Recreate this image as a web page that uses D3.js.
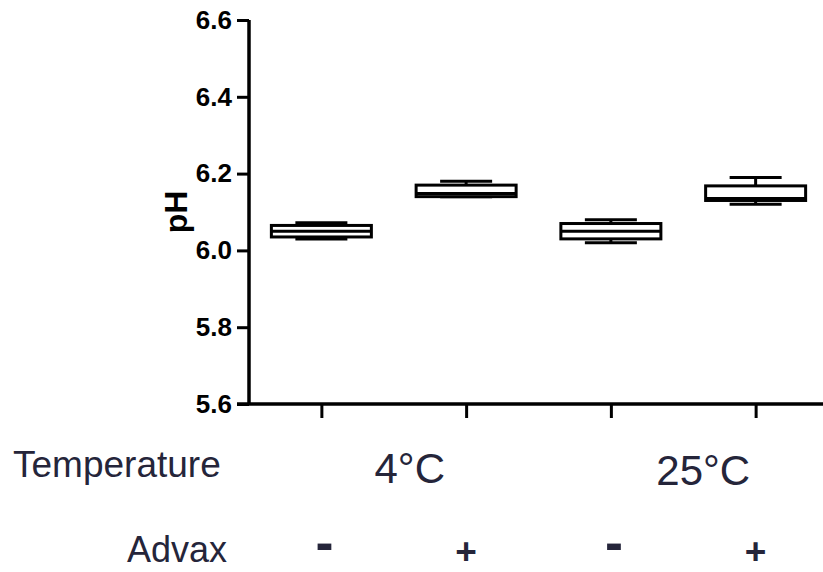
<!DOCTYPE html>
<html>
<head>
<meta charset="utf-8">
<script src="https://cdn.jsdelivr.net/npm/d3@7"></script>
<style>
  body { margin: 0; background: #fff; }
  text { font-family: "Liberation Sans", Arial, sans-serif; }
</style>
</head>
<body>
<div id="chart"></div>
<script>
// data
var groups = ["4°C -", "4°C +", "25°C -", "25°C +"];
var temperatures = ["4°C", "25°C"];
var advax = ["-", "+", "-", "+"];
var mins = [6.03, 6.14, 6.02, 6.12];
var q1s = [6.035, 6.14, 6.03, 6.13];
var medians = [6.05, 6.148, 6.05, 6.135];
var q3s = [6.065, 6.17, 6.07, 6.168];
var maxs = [6.072, 6.18, 6.08, 6.19];
var yTicks = [5.6, 5.8, 6.0, 6.2, 6.4, 6.6];

var w = 823, h = 572;
var boxW = 100, capW = 52;
var ink = "#25253a";

var svg = d3.select("#chart").append("svg")
  .attr("width", w)
  .attr("height", h);

var x = d3.scalePoint().domain(groups).range([249, 828]).padding(0.5);
var y = d3.scaleLinear().domain([5.6, 6.6]).range([404, 20]);

var boxes = groups.map(function(g, i) {
  return { g: g, min: mins[i], q1: q1s[i], med: medians[i], q3: q3s[i], max: maxs[i] };
});

//y axis
var yAxis = svg.append("g")
  .attr("transform", "translate(249,0)")
  .call(d3.axisLeft(y).tickValues(yTicks).tickFormat(d3.format(".1f")).tickSize(12).tickSizeOuter(0).tickPadding(5));
yAxis.select(".domain").attr("stroke-width", 3.5).attr("d", "M0,20V404");
yAxis.selectAll(".tick line").attr("stroke-width", 3);
yAxis.selectAll(".tick text")
  .attr("font-size", "26px")
  .attr("font-weight", "bold")
  .attr("fill", "#000")
  .attr("font-family", "Liberation Sans, Arial, sans-serif");

//x axis
var xAxis = svg.append("g")
  .attr("transform", "translate(0,404)")
  .call(d3.axisBottom(x).tickSize(14).tickSizeOuter(0).tickFormat(""));
xAxis.select(".domain").attr("stroke-width", 3.5).attr("d", "M237,0H823");
xAxis.selectAll(".tick line").attr("stroke-width", 3);

//y title
svg.append("text")
  .attr("transform", "translate(187,212) rotate(-90)")
  .attr("text-anchor", "middle")
  .attr("font-size", "32px")
  .attr("font-weight", "bold")
  .text("pH");

//boxes
var b = svg.selectAll("g.box")
  .data(boxes)
  .enter()
  .append("g")
  .attr("class", "box");

b.append("line")
  .attr("x1", function(d) { return x(d.g); })
  .attr("x2", function(d) { return x(d.g); })
  .attr("y1", function(d) { return y(d.max); })
  .attr("y2", function(d) { return y(d.min); })
  .attr("stroke", "#000")
  .attr("stroke-width", 3);

b.selectAll("line.cap")
  .data(function(d) { return [{ g: d.g, v: d.min }, { g: d.g, v: d.max }]; })
  .enter()
  .append("line")
  .attr("class", "cap")
  .attr("x1", function(d) { return x(d.g) - capW / 2; })
  .attr("x2", function(d) { return x(d.g) + capW / 2; })
  .attr("y1", function(d) { return y(d.v); })
  .attr("y2", function(d) { return y(d.v); })
  .attr("stroke", "#000")
  .attr("stroke-width", 3);

b.append("rect")
  .attr("x", function(d) { return x(d.g) - boxW / 2; })
  .attr("y", function(d) { return y(d.q3); })
  .attr("width", boxW)
  .attr("height", function(d) { return y(d.q1) - y(d.q3); })
  .attr("fill", "#fff")
  .attr("stroke", "#000")
  .attr("stroke-width", 3);

b.append("line")
  .attr("x1", function(d) { return x(d.g) - boxW / 2; })
  .attr("x2", function(d) { return x(d.g) + boxW / 2; })
  .attr("y1", function(d) { return y(d.med); })
  .attr("y2", function(d) { return y(d.med); })
  .attr("stroke", "#000")
  .attr("stroke-width", 3);

//row labels under the axis
svg.append("text")
  .attr("x", 13).attr("y", 477)
  .attr("font-size", "37px")
  .attr("fill", ink)
  .text("Temperature");

svg.append("text")
  .attr("x", 227).attr("y", 562)
  .attr("text-anchor", "end")
  .attr("font-size", "36px")
  .attr("fill", ink)
  .text("Advax");

svg.selectAll("text.temp")
  .data(temperatures)
  .enter()
  .append("text")
  .attr("class", "temp")
  .attr("x", function(d, i) { return (x(groups[i * 2]) + x(groups[i * 2 + 1])) / 2 + 16 + i * 4; })
  .attr("y", function(d, i) { return 483 + i * 2; })
  .attr("text-anchor", "middle")
  .attr("font-size", "42px")
  .attr("fill", ink)
  .text(function(d) { return d; });

svg.selectAll("text.advax")
  .data(advax)
  .enter()
  .append("text")
  .attr("class", "advax")
  .attr("x", function(d, i) { return x(groups[i]) + (d === "-" ? 3 : 0); })
  .attr("y", function(d) { return d === "-" ? 561 : 564; })
  .attr("text-anchor", "middle")
  .attr("font-size", function(d) { return d === "-" ? "54px" : "37px"; })
  .attr("font-weight", "bold")
  .attr("fill", ink)
  .text(function(d) { return d; });
</script>
</body>
</html>
